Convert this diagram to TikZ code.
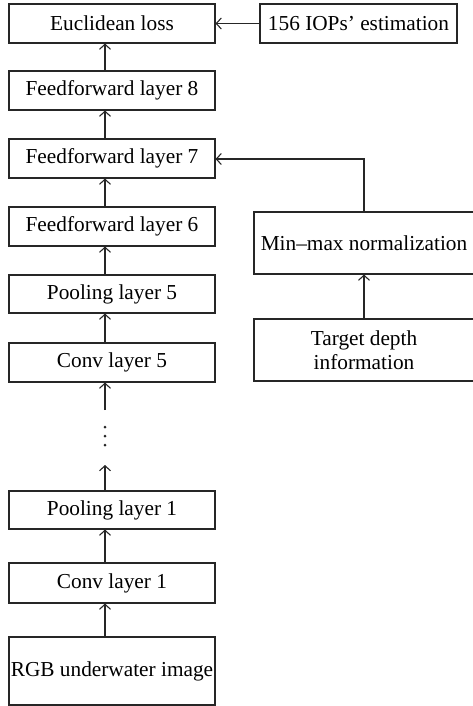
\documentclass[tikz,border=0pt]{standalone}
\usepackage{fontspec}
\setmainfont{Liberation Serif}
\usetikzlibrary{arrows.meta}
\begin{document}
\begin{tikzpicture}[x=1pt,y=-1pt,
  box/.style={draw=black!85, line width=1.1pt, inner sep=0pt, align=center,
    font=\fontsize{21.3}{25}\selectfont, minimum height=39pt},
  lbox/.style={box, minimum width=206pt},
  dotmark/.style={circle, fill=black!85, inner sep=0pt, minimum size=3pt},
  arr/.style={draw=black!85, line width=1.1pt, -{Straight Barb[length=5pt,width=11pt]}}]
\useasboundingbox (0,0) rectangle (473,706);
\clip (0,0) rectangle (473,706);
\coordinate (ax) at (105,0);
\node[lbox] (eu) at (112,23.5) {Euclidean loss};
\node[box, minimum width=197pt] (iops) at (358.5,23.5) {156 IOPs' estimation};
\node[lbox] (ff8) at (112,90.5) {Feedforward layer 8};
\node[lbox] (ff7) at (112,158.5) {Feedforward layer 7};
\node[lbox] (ff6) at (112,226.5) {Feedforward layer 6};
\node[lbox, minimum height=38pt] (pool5) at (112,294) {Pooling layer 5};
\node[lbox] (conv5) at (112,362.5) {Conv layer 5};
\node[lbox, minimum height=38pt] (pool1) at (112,510) {Pooling layer 1};
\node[lbox, minimum height=40pt] (conv1) at (112,583) {Conv layer 1};
\node[lbox, minimum height=68pt] (rgb) at (112,671) {RGB underwater image};
\node[box, minimum width=220pt, minimum height=62pt] (mm) at (364,243) {Min--max normalization};
\node[box, minimum width=220pt, minimum height=62pt] (td) at (364,350) {Target depth\\[-1pt]information};
\node[dotmark] (dA) at (105,427) {};
\node[dotmark] (dB) at (105,436) {};
\node[dotmark] (dC) at (105,445) {};
\coordinate (d1) at (105,410);
\coordinate (d2) at (105,465);
\draw[arr] (iops.west) -- (eu.east);
\draw[arr] (ff8.north -| ax) -- (eu.south -| ax);
\draw[arr] (ff7.north -| ax) -- (ff8.south -| ax);
\draw[arr] (ff6.north -| ax) -- (ff7.south -| ax);
\draw[arr] (pool5.north -| ax) -- (ff6.south -| ax);
\draw[arr] (conv5.north -| ax) -- (pool5.south -| ax);
\draw[arr] (d1) -- (conv5.south -| ax);
\draw[arr] (pool1.north -| ax) -- (d2);
\draw[arr] (conv1.north -| ax) -- (pool1.south -| ax);
\draw[arr] (rgb.north -| ax) -- (conv1.south -| ax);
\draw[arr] (td.north) -- (mm.south);
\draw[arr] (mm.north) |- ([yshift=-0.5pt]ff7.east);
\end{tikzpicture}
\end{document}
